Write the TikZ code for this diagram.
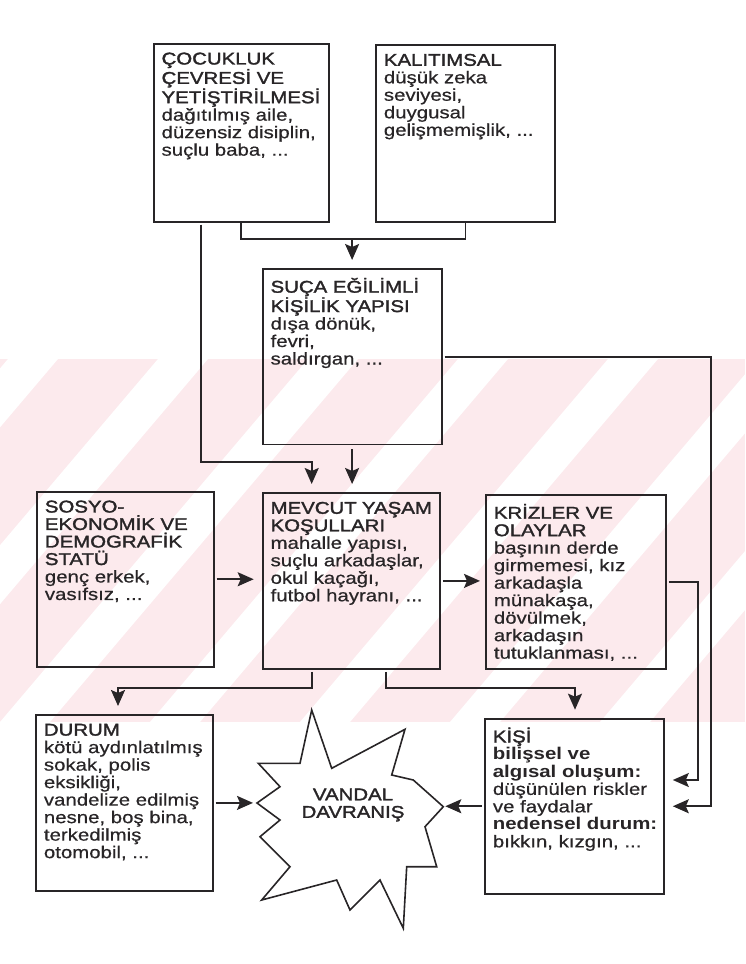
\documentclass[tikz,border=0pt]{standalone}
\usepackage{fontspec}
\setmainfont{Liberation Sans}[FakeStretch=1.2, UprightFeatures={FakeBold=0.6}]
\newfontfamily\baslikfont{Liberation Sans}[FakeStretch=1.2,FakeBold=1.8]
\usetikzlibrary{arrows.meta,positioning,calc}
\definecolor{inkgray}{RGB}{40,37,39}
\definecolor{wmpink}{RGB}{252,234,237}
\tikzset{
  kutu/.style={draw=inkgray, line width=1.8pt, anchor=north west,
    inner xsep=8pt, inner ysep=9pt, text=inkgray},
  hat/.style={draw=inkgray, line width=1.8pt},
  ok/.style={hat, -{Stealth[length=16pt,width=14pt,inset=3pt]},
    shorten <=2pt, shorten >=8pt},
}
\newcommand{\kutuyazi}[3]{%
  \parbox[c][#2pt][t]{#1pt}{\fontsize{17}{17.5}\selectfont\raggedright #3}}

\begin{document}
\begin{tikzpicture}[x=1pt,y=-1pt]
    \useasboundingbox (0,0) rectangle (745,964);
    % faint striped band in the background
    \begin{scope}
      \clip (0,359) rectangle (745,722);
      \fill[wmpink] (0,359) rectangle (745,722);
      \foreach \x in {-450,-300,...,900}
        \fill[white] (\x,722) -- ++(50,0) -- ++(308,-363) -- ++(-50,0) -- cycle;
    \end{scope}
    % top row
    \node[kutu] (cocuk) at (152.7,42.7) {\kutuyazi{159}{160}{%
      {\baslikfont ÇOCUKLUK\\ÇEVRESİ VE\\YETİŞTİRİLMESİ}\\
      dağıtılmış aile,\\düzensiz disiplin,\\suçlu baba, ...}};
    \node[kutu] (kalit) at (375,44) {\kutuyazi{163}{159}{%
      {\baslikfont KALITIMSAL}\\
      düşük zeka\\seviyesi,\\duygusal\\gelişmemişlik, ...}};
    % personality
    \node[kutu] (suca) at (261.7,268) {\kutuyazi{163}{157.5}{%
      {\baslikfont SUÇA EĞİLİMLİ\\KİŞİLİK YAPISI}\\
      dışa dönük,\\fevri,\\saldırgan, ...}};
    % middle row
    \node[kutu] (sosyo) at (36,490.7) {\kutuyazi{160.7}{157.3}{%
      {\baslikfont SOSYO-\\EKONOMİK VE\\DEMOGRAFİK\\STATÜ}\\
      genç erkek,\\vasıfsız, ...}};
    \node[kutu] (mevcut) at (261.7,492) {\kutuyazi{161.3}{158}{%
      {\baslikfont MEVCUT YAŞAM\\KOŞULLARI}\\
      mahalle yapısı,\\suçlu arkadaşlar,\\okul kaçağı,\\futbol hayranı, ...}};
    \node[kutu] (kriz) at (485,494) {\kutuyazi{164}{156}{%
      {\baslikfont KRİZLER VE\\OLAYLAR}\\
      başının derde\\girmemesi, kız\\arkadaşla\\münakaşa,\\dövülmek,\\arkadaşın\\tutuklanması, ...}};
    % bottom row
    \node[kutu] (durum) at (35,714) {\kutuyazi{160.7}{158}{%
      {\baslikfont DURUM}\\
      \mbox{kötü aydınlatılmış}\\sokak, polis\\eksikliği,\\\mbox{vandelize edilmiş}\\nesne, boş bina,\\terkedilmiş\\otomobil, ...}};
    \node[kutu] (kisi) at (484,717.7) {\kutuyazi{163}{157.3}{%
      {\baslikfont KİŞİ}\\
      \textbf{bilişsel ve}\\\textbf{algısal oluşum:}\\düşünülen riskler\\ve faydalar\\
      \mbox{\textbf{nedensel durum:}}\\bıkkın, kızgın, ...}};
    % the burst
    \draw[hat, line width=1.6pt] (311.7,710) -- (331.7,768.3) -- (405,729.3) -- (391.7,775)
      -- (413.3,780) -- (443.3,806.7) -- (425,826.7) -- (436.7,866.7) -- (406.7,866.7)
      -- (403.3,928.3) -- (380,880) -- (350,910) -- (336.7,880) -- (261.7,900)
      -- (290,866.7) -- (260,836.7) -- (280,820) -- (257,803) -- (280,786.7)
      -- (258.3,763.3) -- (300,763.3) -- cycle;
    \node[text=inkgray, align=center, font={\baslikfont\fontsize{17}{17.5}\selectfont}]
      (vandal) at (353,805) {VANDAL\\DAVRANIŞ};
    \coordinate (solsivri) at (257,803);
    \coordinate (sagsivri) at (443.3,806.7);
    % bends of the connectors
    \coordinate (dal1) at (311.7,461.7);
    \coordinate (dal2) at ([yshift=29pt]suca.north);
    \coordinate (dal4) at (711,357);
    \coordinate (dal5) at (698,780);
    \coordinate (dal8) at (118,688);
    \coordinate (dal9) at (575,688);
    % connectors
    \draw[ok] ([xshift=-40pt]cocuk.south) |- (dal1) -- (dal1 |- mevcut.north);
    \draw[hat] (cocuk.south) |- (dal2) -| (kalit.south);
    \draw[ok, shorten <=0pt] (dal2) -- (suca.north);
    \draw[ok, shorten <=4pt] (suca.south) -- (suca.south |- mevcut.north);
    \draw[ok] (suca.east) -| (dal4 |- kisi.east) -- (kisi.east);
    \draw[ok] (kriz.east) -| (dal5) -- (dal5 -| kisi.east);
    \draw[ok] (sosyo.east) -- (sosyo.east -| mevcut.west);
    \draw[ok, shorten >=5pt] (mevcut.east) -- (mevcut.east -| kriz.west);
    \draw[ok] ([xshift=-39pt]mevcut.south) |- (dal8) -- (dal8 |- durum.north);
    \draw[ok] ([xshift=35pt]mevcut.south) |- (dal9) -- (dal9 |- kisi.north);
    \draw[ok, shorten >=4pt] (durum.east) -- (durum.east -| solsivri);
    \draw[ok, shorten >=2pt] (kisi.west) -- (kisi.west -| sagsivri);
\end{tikzpicture}
\end{document}
